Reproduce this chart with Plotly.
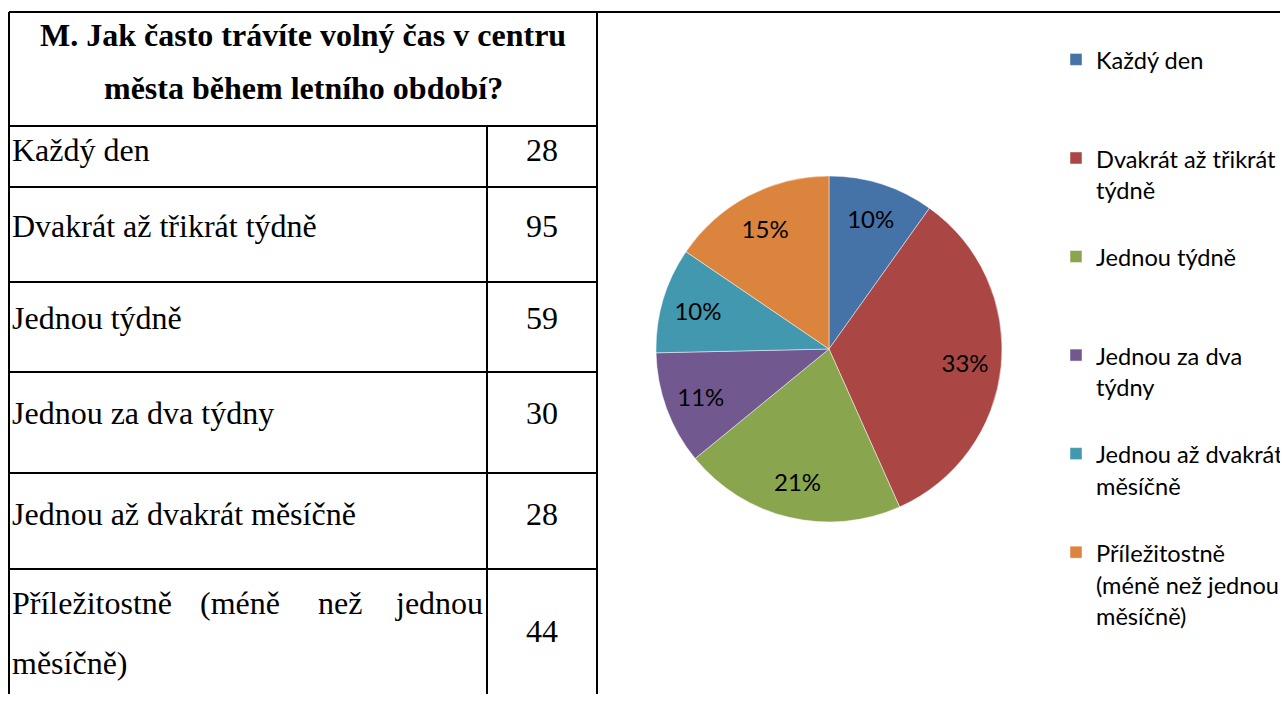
import plotly.graph_objects as go

# ---------------- data ----------------
title_lines = ["M. Jak často trávíte volný čas v centru", "města během letního období?"]
categories = [
    "Každý den",
    "Dvakrát až třikrát týdně",
    "Jednou týdně",
    "Jednou za dva týdny",
    "Jednou až dvakrát měsíčně",
    "Příležitostně (méně než jednou měsíčně)",
]
counts = [28, 95, 59, 30, 28, 44]
legend_lines = [
    ["Každý den"],
    ["Dvakrát až třikrát", "týdně"],
    ["Jednou týdně"],
    ["Jednou za dva", "týdny"],
    ["Jednou až dvakrát", "měsíčně"],
    ["Příležitostně", "(méně než jednou", "měsíčně)"],
]
colors = ["#4572A7", "#AA4643", "#89A54E", "#71588F", "#4198AF", "#DB843D"]

# ---------------- layout constants (screen pixels) ----------------
SW, SH = 1288, 702          # screen size
OFF = 8                     # page margin around the plot div
W, H = SW - 2 * OFF, SH - 2 * OFF   # figure size so the page fits exactly
X_LEFT, X_MID, X_RIGHT = 9, 487, 597
Y_TOP = 12
ROW_LINES = [126, 187, 282, 372, 473, 569]
TITLE_Y = [35, 88]
LABEL_Y = [150, 226, 318, 413, 514, 603]
NUM_Y = [150, 226, 318, 413, 514, 631]
WRAP_Y2 = 663
JUSTIFY_X = [10, 198, 316, 485]
PIE_BOX = (656, 1002, 176, 522)  # left, right, top, bottom
SERIF = "Liberation Serif, Times New Roman, serif"
SANS = "Lato, Calibri, sans-serif"
FS = 32
LEG_LINE_FS = 24.5   # sets legend line spacing
LEG_TEXT_FS = 23.6   # visible glyph size


def px(x):
    return (x - OFF) / W


def py(y):
    return 1 - (y - OFF) / H


fig = go.Figure()

# pad legend entries to equal height (3 lines) so spacing is even
max_lines = max(len(l) for l in legend_lines)
padded = []
for lines in legend_lines:
    parts = [f'<span style="font-size:{LEG_TEXT_FS}px">{t}</span>' for t in lines]
    parts += ["&nbsp;"] * (max_lines - len(lines))
    padded.append("<br>".join(parts))
pie_domain = dict(x=[px(PIE_BOX[0]), px(PIE_BOX[1])], y=[py(PIE_BOX[3]), py(PIE_BOX[2])])

fig.add_trace(go.Pie(
    labels=padded,
    values=counts,
    sort=False,
    direction="clockwise",
    rotation=0,
    marker=dict(colors=colors, line=dict(color="rgba(255,255,255,0.6)", width=0.8)),
    textinfo="none",
    domain=pie_domain,
    customdata=categories,
    hovertemplate="%{customdata}: %{value} (%{percent})<extra></extra>",
))
# transparent ring carrying the percentage labels (places them at ~0.8 radius)
fig.add_trace(go.Pie(
    labels=padded,
    values=counts,
    sort=False,
    direction="clockwise",
    rotation=0,
    hole=0.58,
    marker=dict(colors=["rgba(0,0,0,0)"] * len(counts), line=dict(width=0)),
    texttemplate="%{percent:.0%}",
    textposition="inside",
    insidetextorientation="horizontal",
    textfont=dict(family=SANS, size=24, color="black"),
    domain=pie_domain,
    showlegend=False,
    hoverinfo="skip",
))

shapes = []
line = dict(color="black", width=2)
shapes.append(dict(type="line", x0=X_LEFT, x1=SW, y0=Y_TOP, y1=Y_TOP, line=line))
shapes.append(dict(type="line", x0=X_LEFT, x1=X_LEFT, y0=Y_TOP, y1=SH, line=line))
shapes.append(dict(type="line", x0=X_RIGHT, x1=X_RIGHT, y0=Y_TOP, y1=SH, line=line))
shapes.append(dict(type="line", x0=X_MID, x1=X_MID, y0=ROW_LINES[0], y1=SH, line=line))
for y in ROW_LINES:
    shapes.append(dict(type="line", x0=X_LEFT, x1=X_RIGHT, y0=y, y1=y, line=line))
for s in shapes:
    s.update(xref="x", yref="y", layer="above")

ann = []
for t, y in zip(title_lines, TITLE_Y):
    ann.append(dict(x=(X_LEFT + X_RIGHT) / 2, y=y, text=f"<b>{t}</b>", xanchor="center"))
for i, (cat, n) in enumerate(zip(categories, counts)):
    if i == len(categories) - 1:
        words = cat.split(" ")
        first = words[:4]
        rest = " ".join(words[4:])
        for j, (w, x) in enumerate(zip(first, JUSTIFY_X)):
            ann.append(dict(x=x, y=LABEL_Y[i], text=w,
                            xanchor="right" if j == len(first) - 1 else "left"))
        ann.append(dict(x=JUSTIFY_X[0], y=WRAP_Y2, text=rest, xanchor="left"))
    else:
        ann.append(dict(x=JUSTIFY_X[0], y=LABEL_Y[i], text=cat, xanchor="left"))
    ann.append(dict(x=(X_MID + X_RIGHT) / 2, y=NUM_Y[i], text=str(n), xanchor="center"))
for a in ann:
    a.update(xref="x", yref="y", showarrow=False, yanchor="middle",
             font=dict(family=SERIF, size=FS, color="black"))

fig.update_layout(
    width=W, height=H,
    margin=dict(l=0, r=0, t=0, b=0, autoexpand=False),
    paper_bgcolor="white", plot_bgcolor="white",
    xaxis=dict(range=[OFF, SW - OFF], visible=False, fixedrange=True, domain=[0, 1]),
    yaxis=dict(range=[SH - OFF, OFF], visible=False, fixedrange=True, domain=[0, 1]),
    shapes=shapes,
    annotations=ann,
    showlegend=True,
    legend=dict(
        x=px(1056), xanchor="left", y=py(37), yanchor="top",
        valign="top",
        font=dict(family=SANS, size=LEG_LINE_FS, color="black"),
        bgcolor="rgba(0,0,0,0)",
        tracegroupgap=0,
    ),
)

fig.write_html("out.html")
